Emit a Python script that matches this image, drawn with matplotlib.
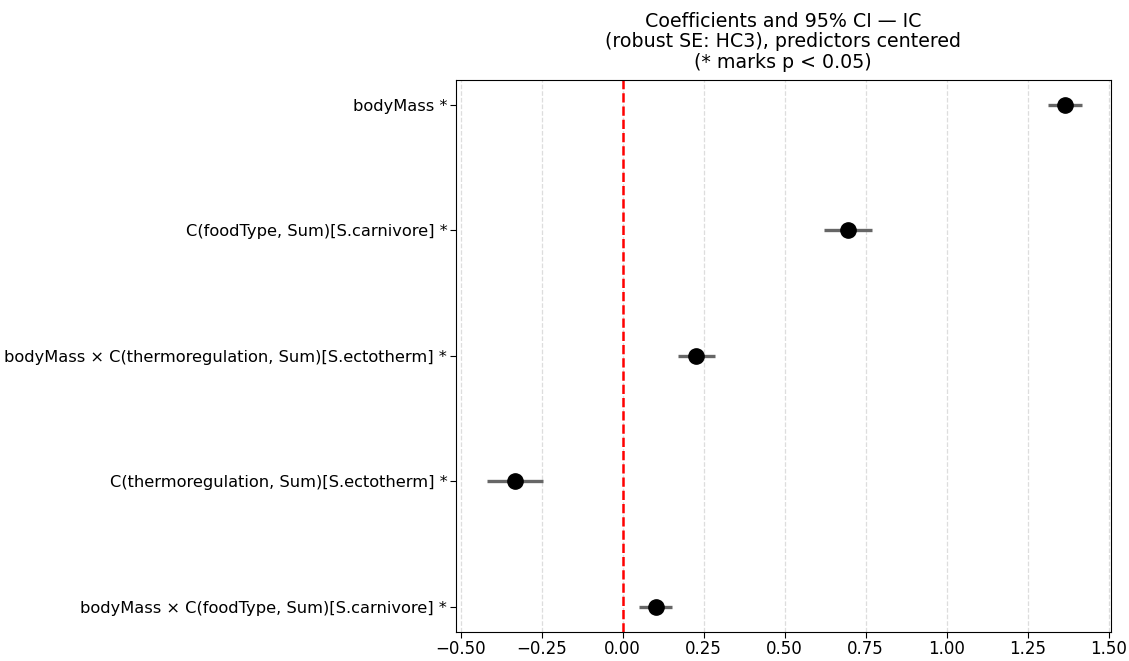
import matplotlib
matplotlib.use("Agg")
from matplotlib import pyplot as plt
import numpy as np

# Coefficients (top to bottom as shown)
terms = ['bodyMass *',
         'C(foodType, Sum)[S.carnivore] *',
         'bodyMass × C(thermoregulation, Sum)[S.ectotherm] *',
         'C(thermoregulation, Sum)[S.ectotherm] *',
         'bodyMass × C(foodType, Sum)[S.carnivore] *']
coef = [1.365, 0.695, 0.228, -0.332, 0.103]
ci_low = [1.312, 0.622, 0.170, -0.418, 0.052]
ci_high = [1.418, 0.770, 0.286, -0.246, 0.154]

y = np.arange(len(terms))[::-1]

fig, ax = plt.subplots(figsize=(11.29, 6.61), dpi=100)
fig.subplots_adjust(left=0.4036, right=0.984, top=0.8797, bottom=0.044)

ax.hlines(y, ci_low, ci_high, color='#666666', linewidth=2.4, zorder=2)
ax.plot(coef, y, 'o', color='black', markersize=11, zorder=3)
ax.axvline(0, color='red', linestyle='--', linewidth=1.8, zorder=1)

ax.set_yticks(y)
ax.set_yticklabels(terms)
ax.set_xticks(np.arange(-0.5, 1.51, 0.25))
ax.set_xlim(-0.515, 1.507)
ax.set_ylim(-0.2, 4.2)
ax.tick_params(axis='y', labelsize=11.7, length=4, pad=2)
ax.tick_params(axis='x', labelsize=12, length=4, pad=2)
ax.grid(axis='x', linestyle='--', color='#dddddd', linewidth=0.9)
ax.set_axisbelow(True)

ax.set_title('Coefficients and 95% CI — IC\n(robust SE: HC3), predictors centered\n(* marks p < 0.05)',
             fontsize=13.7, pad=8, linespacing=1.13)

fig.savefig('out.png', dpi=100)
